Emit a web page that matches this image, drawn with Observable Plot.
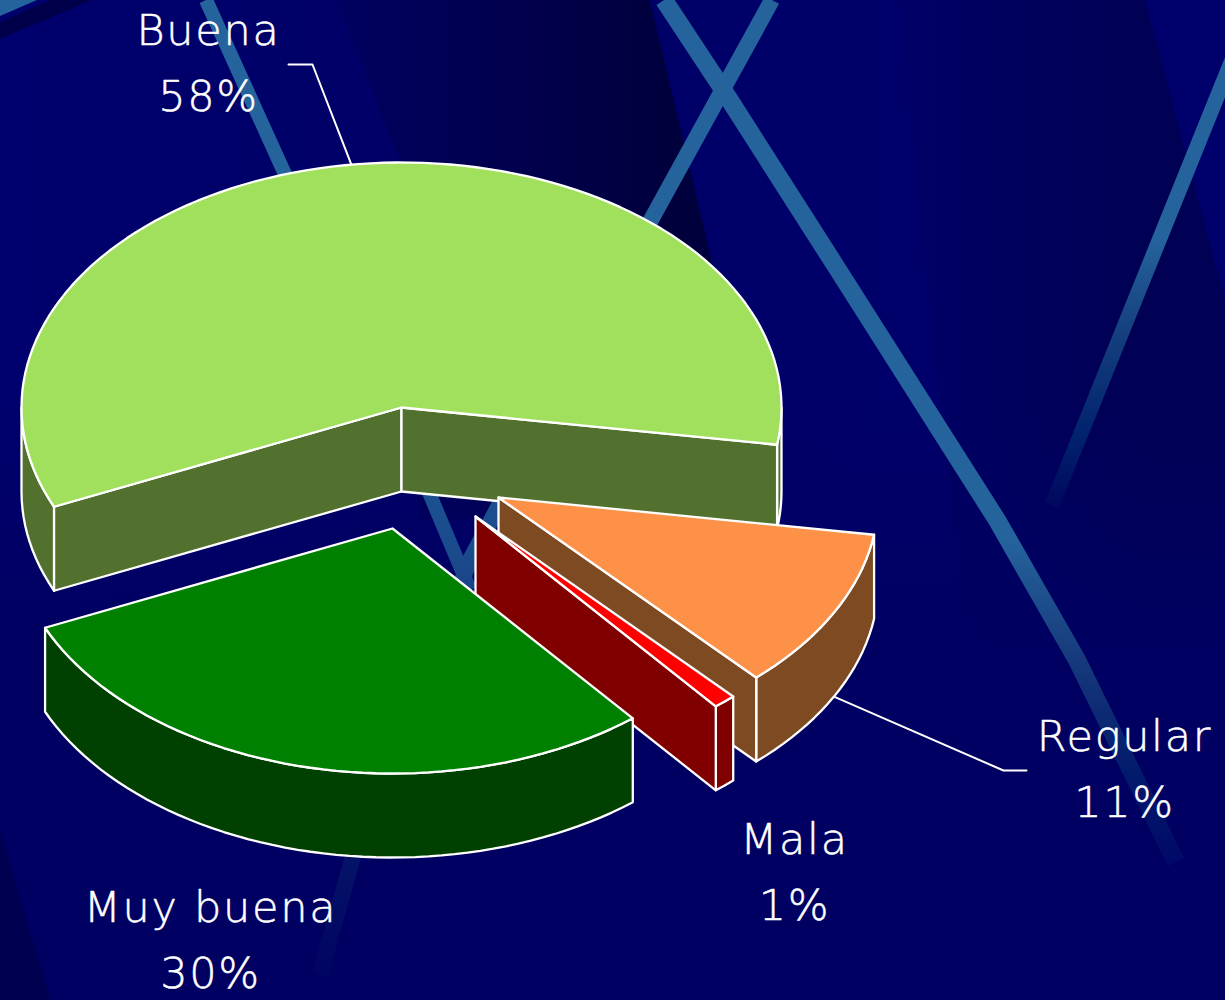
<!DOCTYPE html>
<html lang="es">
<head>
<meta charset="utf-8">
<title>Pie</title>
<script src="https://cdn.jsdelivr.net/npm/d3@7"></script>
<script src="https://cdn.jsdelivr.net/npm/@observablehq/plot@0.6"></script>
<style>
html,body{margin:0;padding:0;overflow:hidden;background:#000062}
#chart{width:1225px;height:1000px;background-size:1225px 1000px}
#chart svg{display:block}
</style>
</head>
<body>
<div id="chart"></div>
<script>
// ---- chart values ----
const categories = ["Regular", "Mala", "Muy buena", "Buena"];
const percents = [11, 1, 30, 58];
const topColors = ["#fd9148", "#ff0000", "#008000", "#a0e05c"];
const wallColors = ["#7d4a22", "#800000", "#004000", "#52702e"];

// ---- layout of the exploded, tilted pie ----
const startAngle = 9, rx = 380, ry = 245, depth = 84;
const centers = {
  "Regular": [498, 497], "Mala": [475, 516], "Muy buena": [392, 528], "Buena": [401, 407]
};
const labelAt = {
  "Regular": [1124, 737], "Mala": [794, 840], "Muy buena": [210, 908], "Buena": [208, 31]
};
const leaders = {
  "Regular": {elbow: [-121, 33], end: [-98, 33], bottom: true},
  "Buena": {elbow: [104, 33], end: [80, 33], bottom: false}
};
const paintOrder = ["Buena", "Regular", "Mala", "Muy buena"];

// ---- slices from the values ----
const rad = d => d * Math.PI / 180;
// the tilted view slightly skews angles around the disc
const viewAngle = t => t - 2.05 * (1 + Math.cos(rad(t - 160)));
let acc = startAngle;
const slices = categories.map((name, i) => {
  const a0 = viewAngle(acc), a1 = viewAngle(acc + percents[i] * 3.6);
  acc += percents[i] * 3.6;
  return {name, a0, a1, top: topColors[i], wall: wallColors[i], c: centers[name]};
});
const rim = (s, t, dz = 0) => ({x: s.c[0] + rx * Math.cos(rad(t)), y: s.c[1] + ry * Math.sin(rad(t)) + dz});
const arc = (s, from, to, dz = 0) => {
  const n = Math.max(2, Math.ceil(Math.abs(to - from) / 2));
  return d3.range(n + 1).map(k => rim(s, from + (to - from) * k / n, dz));
};

const faces = [];
for (const name of paintOrder) {
  const s = slices.find(d => d.name === name);
  const centre = {x: s.c[0], y: s.c[1]}, centreLow = {x: s.c[0], y: s.c[1] + depth};
  // visible stretches of the outer rim: the front half of the circle
  for (const [lo, hi] of [[0, 180], [360, 540]]) {
    const from = Math.max(s.a0, lo), to = Math.min(s.a1, hi);
    if (to > from) faces.push({fill: s.wall, pts: [...arc(s, from, to), ...arc(s, to, from, depth)]});
  }
  // radial walls that face the viewer
  if (Math.cos(rad(s.a0)) < 0) faces.push({fill: s.wall, pts: [centre, rim(s, s.a0), rim(s, s.a0, depth), centreLow]});
  if (Math.cos(rad(s.a1)) > 0) faces.push({fill: s.wall, pts: [centre, rim(s, s.a1), rim(s, s.a1, depth), centreLow]});
  faces.push({fill: s.top, pts: [centre, ...arc(s, s.a0, s.a1)]});
}

// leader lines run from the middle of the slice rim to beside the label
const leaderLines = Object.entries(leaders).map(([name, l]) => {
  const s = slices.find(d => d.name === name), at = labelAt[name];
  return [
    rim(s, (s.a0 + s.a1) / 2, l.bottom ? depth : 0),
    {x: at[0] + l.elbow[0], y: at[1] + l.elbow[1]},
    {x: at[0] + l.end[0], y: at[1] + l.end[1]}
  ];
});

const labels = slices.map((s, i) => ({name: s.name, pct: percents[i] + "%", x: labelAt[s.name][0], y: labelAt[s.name][1]}));
const textStyle = {fill: "white", stroke: "white", strokeWidth: 0.5, fontSize: 43, fontFamily: "DejaVu Sans", fontWeight: 200, textAnchor: "middle"};

const plot = Plot.plot({
  width: 1225, height: 1000, margin: 0,
  x: {domain: [0, 1225], range: [0, 1225], axis: null},
  y: {domain: [0, 1000], range: [0, 1000], axis: null},
  style: {background: "transparent", letterSpacing: "1.7px"},
  marks: [
    ...leaderLines.map(pts => Plot.line(pts, {x: "x", y: "y", stroke: "white", strokeWidth: 2})),
    ...faces.map(f => Plot.line(f.pts, {x: "x", y: "y", curve: "linear-closed", fill: f.fill, stroke: "white", strokeWidth: 2.3, strokeLinejoin: "round"})),
    Plot.text(labels, {x: "x", y: "y", text: "name", ...textStyle}),
    Plot.text(labels, {x: "x", y: "y", dy: 66, text: "pct", ...textStyle})
  ]
});
const holder = document.getElementById("chart");
holder.appendChild(plot);

// ---- slide backdrop (decoration only) ----
const backdrop = `<svg xmlns="http://www.w3.org/2000/svg" width="1225" height="1000">
<defs>
<linearGradient id="base" x1="0" x2="1" y1="0" y2="0"><stop offset="0" stop-color="#00006e"/><stop offset=".3" stop-color="#000068"/><stop offset=".72" stop-color="#00006a"/></linearGradient>
<linearGradient id="lower" x1="0" x2="0" y1="0" y2="1"><stop offset=".4" stop-color="#000062" stop-opacity="0"/><stop offset=".65" stop-color="#000062"/></linearGradient>
<linearGradient id="wedge" x1="340" x2="680" y1="0" y2="0" gradientUnits="userSpaceOnUse"><stop offset="0" stop-color="#000060"/><stop offset="1" stop-color="#00003c"/></linearGradient>
<linearGradient id="wedge2" x1="900" x2="1145" y1="0" y2="0" gradientUnits="userSpaceOnUse"><stop offset="0" stop-color="#000067"/><stop offset="1" stop-color="#000054"/></linearGradient>
<linearGradient id="sA" x1="0" x2="0" y1="0" y2="870" gradientUnits="userSpaceOnUse"><stop offset="0" stop-color="#25639c"/><stop offset=".62" stop-color="#25639c"/><stop offset=".76" stop-color="#16397c"/><stop offset=".88" stop-color="#031c6c"/><stop offset="1" stop-color="#000868"/></linearGradient>
<linearGradient id="sB" x1="0" x2="0" y1="0" y2="980" gradientUnits="userSpaceOnUse"><stop offset="0" stop-color="#25639c"/><stop offset=".3" stop-color="#25639c"/><stop offset=".57" stop-color="#1a4a8c"/><stop offset=".86" stop-color="#051568"/><stop offset="1" stop-color="#000362"/></linearGradient>
<linearGradient id="sD" x1="0" x2="0" y1="60" y2="510" gradientUnits="userSpaceOnUse"><stop offset="0" stop-color="#25639c"/><stop offset=".4" stop-color="#25639c"/><stop offset=".6" stop-color="#16407f"/><stop offset=".85" stop-color="#00206c"/><stop offset="1" stop-color="#00065e"/></linearGradient>
</defs>
<rect width="1225" height="1000" fill="url(#base)"/>
<polygon points="335,0 650,0 712,262 680,520 420,520 400,160" fill="url(#wedge)"/>
<polygon points="900,0 1145,0 1225,290 1225,1000 1000,1000" fill="url(#wedge2)"/>
<polygon points="1145,0 1225,0 1225,300" fill="#00006c"/>
<rect width="1225" height="1000" fill="url(#lower)"/>
<polygon points="0,830 50,1000 0,1000" fill="#000050"/>
<polygon points="0,22 50,0 92,0 0,39" fill="#00004a"/>
<polygon points="0,0 37,0 0,16" fill="#25639c"/>
<polyline points="206,0 284,172 428,490 470,590" fill="none" stroke="url(#sB)" stroke-width="14"/>
<polyline points="772,0 651,220 470,560 352,860 320,975" fill="none" stroke="url(#sB)" stroke-width="16"/>
<polyline points="664,0 722,88 835,265 997,520 1077,660 1176,862" fill="none" stroke="url(#sA)" stroke-width="18" stroke-linejoin="round"/>
<polyline points="1232,60 1052,505" fill="none" stroke="url(#sD)" stroke-width="15"/>
</svg>`;
holder.style.backgroundImage = "url('data:image/svg+xml," + encodeURIComponent(backdrop) + "')";
</script>
</body>
</html>
